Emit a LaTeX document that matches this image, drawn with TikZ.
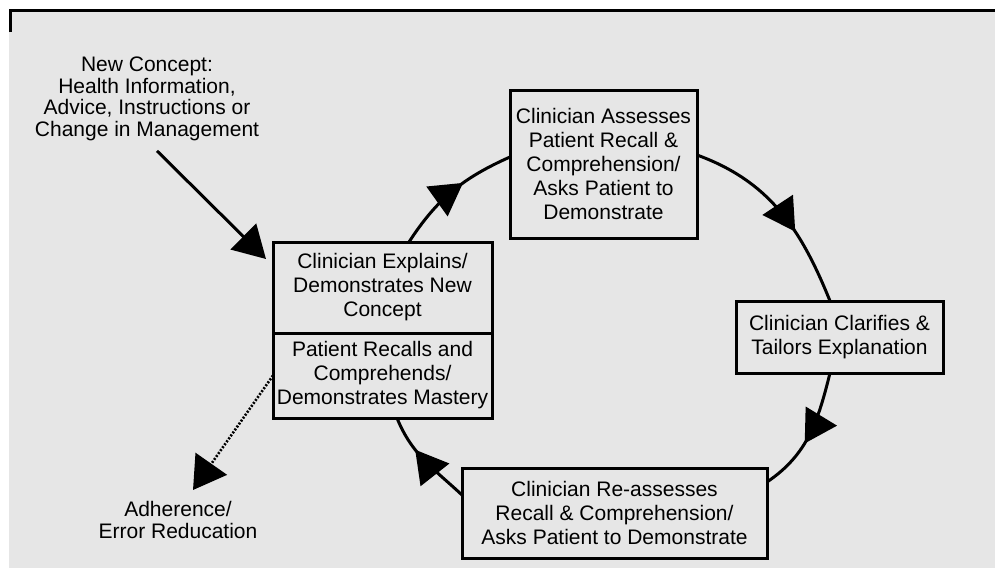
\documentclass[tikz,border=0pt]{standalone}
\usepackage{fontspec}
\setmainfont{Liberation Sans}
\usetikzlibrary{arrows.meta,positioning,calc,decorations.markings}
\definecolor{panel}{RGB}{230,230,230}
\tikzstyle{stage} = [rectangle, draw=black, line width=3pt, outer sep=0pt, inner sep=0pt, align=center, font=\fontsize{21}{24}\selectfont]
\tikzstyle{note} = [inner sep=0pt, align=center, font=\fontsize{21}{21.5}\selectfont]
\tikzstyle{cycleline} = [line width=3pt]
\tikzstyle{pointer} = [line width=3pt, -{Triangle[length=32pt,width=36pt]}]
\tikzstyle{dotpointer} = [line width=2.6pt, dash pattern=on 2pt off 1.6pt, -{Triangle[length=32pt,width=38pt]}]
\tikzset{midarrow/.style={postaction={decorate}, decoration={markings, mark=at position #1 with {\arrow{Triangle[length=32pt,width=36pt]}}}}}

\begin{document}
\begin{tikzpicture}[x=1pt, y=1pt, node distance=0pt]
\useasboundingbox (0,0) rectangle (995,-568);
\fill[panel] (9,-9) rectangle (995,-568);
\draw[line width=3pt] (10,-32) -- (10,-10) -- (995,-10);

% the cycle
\node (explain) [stage, minimum width=219pt, minimum height=91pt] at (382.5,-287.5) {Clinician Explains/\\Demonstrates New\\Concept};
\node (recall) [stage, minimum width=219pt, minimum height=85pt, below=of explain] {Patient Recalls and\\Comprehends/\\Demonstrates Mastery};
\node (assess) [stage, minimum width=187pt, minimum height=148pt] at (603.5,-164) {Clinician Assesses\\Patient Recall \&\\Comprehension/\\Asks Patient to\\Demonstrate};
\node (clarify) [stage, minimum width=207pt, minimum height=72pt] at (839.5,-337) {Clinician Clarifies \&\\Tailors Explanation};
\node (reassess) [stage, minimum width=305pt, minimum height=90pt] at (614.5,-513) {Clinician Re-assesses\\Recall \& Comprehension/\\Asks Patient to Demonstrate};

% outside texts
\node (concept) [note] at (147,-99) {New Concept:\\Health Information,\\Advice, Instructions or\\Change in Management};
\node (adherence) [note] at (178,-520) {Adherence/\\Error Reducation};
\coordinate (concepttip) at (266,-259);
\coordinate (adherencetip) at (193,-490);

\draw [cycleline, midarrow=0.6] ($(explain.north)+(26.5,0)$) to[out=57,in=204] ($(assess.west)+(0,7)$);
\draw [cycleline, midarrow=0.62] ($(assess.east)+(0,9)$) to[out=-20,in=112] ($(clarify.north)+(-9.5,0)$);
\draw [cycleline, midarrow=0.58] ($(clarify.south)+(-9.5,0)$) to[out=-104,in=34] ($(reassess.east)+(0,31)$);
\draw [cycleline, midarrow=0.64] ($(reassess.west)+(0,18)$) to[out=137,in=-68] ($(recall.south)+(14.5,0)$);

\draw [pointer, shorten <=14pt] (concept.south) -- (concepttip);
\draw [dotpointer] (recall.west) -- (adherencetip);
\end{tikzpicture}
\end{document}
